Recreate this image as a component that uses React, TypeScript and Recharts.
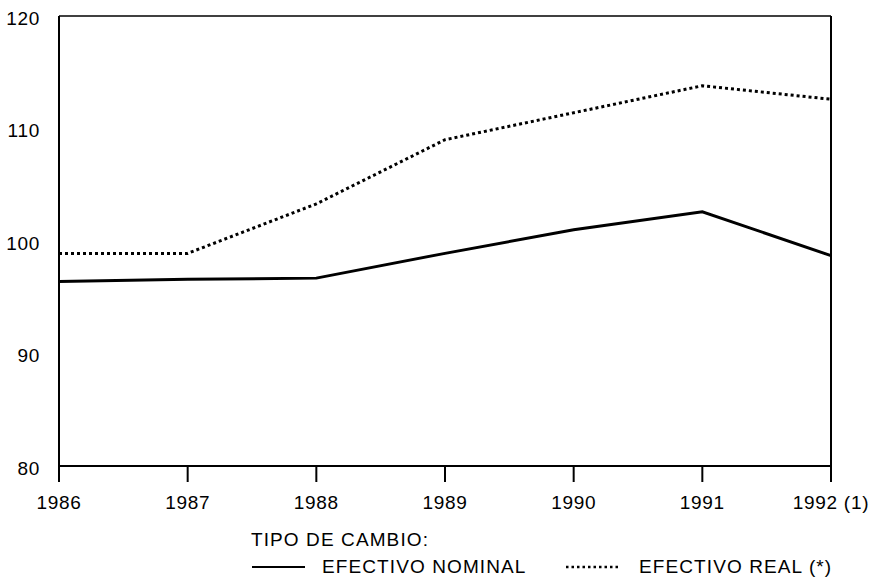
import { LineChart, Line, XAxis, YAxis, ReferenceLine } from "recharts"

const years = ["1986", "1987", "1988", "1989", "1990", "1991", "1992 (1)"]
const nominal = [96.4, 96.6, 96.7, 98.9, 101.0, 102.6, 98.7]
const real = [98.9, 98.9, 103.3, 109.0, 111.4, 113.8, 112.6]
const yTicks = [80, 90, 100, 110, 120]

const data = years.map((year, i) => ({
    year,
    nominal: nominal[i],
    real: real[i],
}))

const font = "'Liberation Sans', Arial, sans-serif"

export default function App() {
    return (
        <div style={{ position: "absolute", left: 0, top: 0, width: 872, height: 580, background: "#fff", fontFamily: font }}>
            <LineChart
                width={872}
                height={580}
                data={data}
                margin={{ top: 16, right: 41, left: 0, bottom: 74 }}
            >
                <XAxis
                    dataKey="year"
                    interval={0}
                    axisLine={{ stroke: "#000", strokeWidth: 2 }}
                    tickLine={{ stroke: "#000", strokeWidth: 2 }}
                    tickSize={16}
                    tickMargin={14}
                    tick={{ fill: "#000", fontSize: 19, fontFamily: font, letterSpacing: 0.7 }}
                    height={40}
                    padding={{ left: 0, right: 0 }}
                />
                <YAxis
                    domain={[80, 120]}
                    ticks={yTicks}
                    width={59}
                    axisLine={{ stroke: "#000", strokeWidth: 2 }}
                    tickLine={false}
                    tickMargin={13}
                    tick={{ fill: "#000", fontSize: 19, fontFamily: font, letterSpacing: 0.7, dy: 2 }}
                />
                {/* box around the plot */}
                <ReferenceLine y={120} stroke="#000" strokeWidth={1.5} />
                <ReferenceLine x="1992 (1)" stroke="#000" strokeWidth={2} />
                <Line
                    dataKey="nominal"
                    name="EFECTIVO NOMINAL"
                    stroke="#000"
                    strokeWidth={3}
                    dot={false}
                    isAnimationActive={false}
                />
                <Line
                    dataKey="real"
                    name="EFECTIVO REAL (*)"
                    stroke="#000"
                    strokeWidth={3}
                    strokeDasharray="3 3"
                    dot={false}
                    isAnimationActive={false}
                />
            </LineChart>

            {/* legend */}
            <div style={{ position: "absolute", left: 251, top: 528, fontSize: 19, letterSpacing: 1.1, color: "#000", lineHeight: "24px" }}>
                <div>TIPO DE CAMBIO:</div>
                <div style={{ display: "flex", alignItems: "center", marginTop: 3 }}>
                    <svg width={56} height={10}>
                        <line x1={1} y1={5} x2={54} y2={5} stroke="#000" strokeWidth={2} />
                    </svg>
                    <span style={{ marginLeft: 15, width: 243 }}>EFECTIVO NOMINAL</span>
                    <svg width={58} height={10}>
                        <line x1={1} y1={5} x2={56} y2={5} stroke="#000" strokeWidth={2.5} strokeDasharray="2.5 3" />
                    </svg>
                    <span style={{ marginLeft: 16 }}>EFECTIVO REAL (*)</span>
                </div>
            </div>
        </div>
    )
}
